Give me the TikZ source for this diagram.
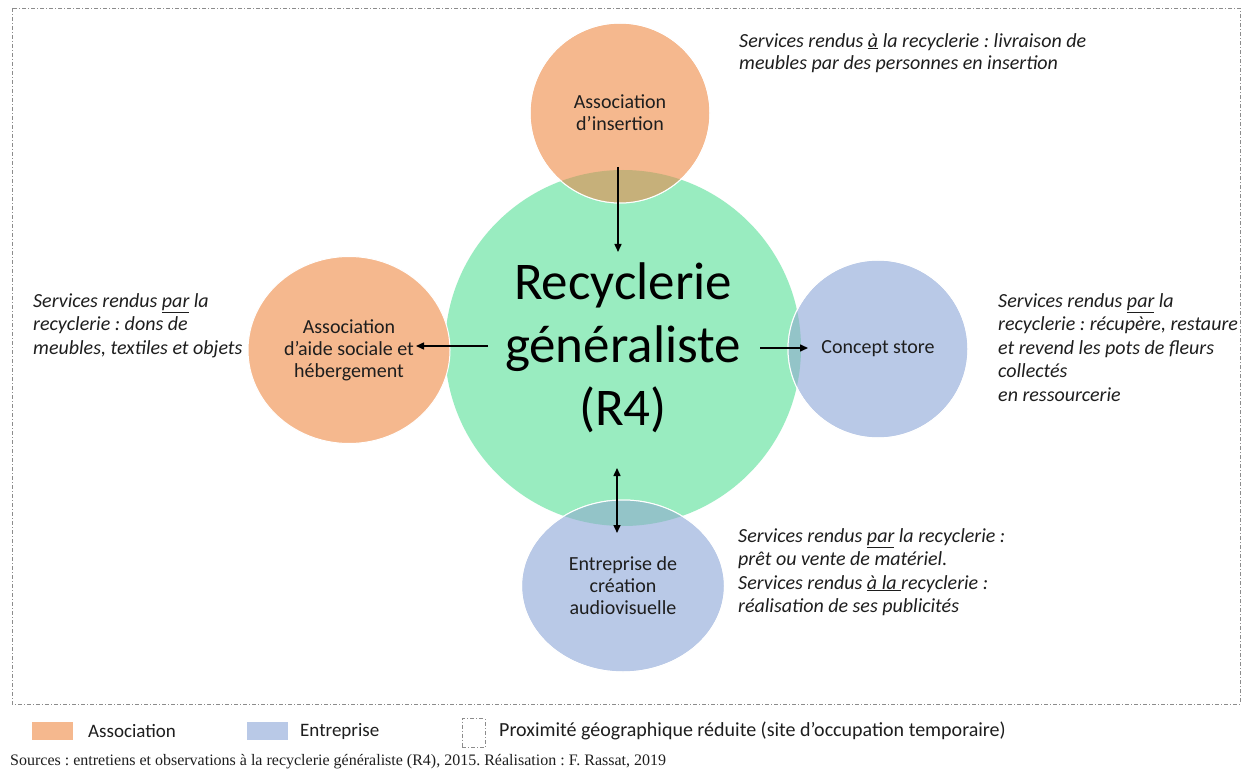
\documentclass[tikz,border=0pt]{standalone}
\usepackage{fontspec}
\setmainfont{Carlito}
\newfontfamily\srcfont{Liberation Serif}
\usetikzlibrary{shapes.geometric,arrows.meta}
\frenchspacing
\definecolor{orangeA}{HTML}{F5B88E}
\definecolor{greenR}{HTML}{99ECC0}
\definecolor{blueE}{HTML}{B9C9E7}
\definecolor{olapOG}{HTML}{C6B07A}
\definecolor{olapBG}{HTML}{93C4C8}
\definecolor{frameGray}{HTML}{8C8C8C}
\definecolor{txt}{HTML}{1E1E1E}
\tikzset{
  bub/.style={ellipse, draw=white, line width=1pt, inner sep=0pt, align=center,
    font=\fontsize{20}{22}\selectfont, text=txt},
  note/.style={anchor=north west, align=left, inner sep=0pt,
    font=\fontsize{20}{23.5}\selectfont\itshape, text=txt},
  arr/.style={-{Triangle[length=8pt,width=7pt]}, line width=1.5pt},
  arrtwo/.style={{Triangle[length=8pt,width=7pt]}-{Triangle[length=8pt,width=7pt]}, line width=1.5pt},
  dashdot/.style={dash pattern=on 4pt off 2pt on 1pt off 2pt},
  frame/.style={draw=frameGray, line width=0.8pt, dashdot},
  swatch/.style={minimum width=41pt, minimum height=18pt, inner sep=0pt},
  legtxt/.style={anchor=west, inner sep=0pt, font=\fontsize{19}{22}\selectfont, text=txt},
  outline/.style={draw=white, line width=1pt}
}
\begin{document}
\begin{tikzpicture}[x=1pt,y=-1pt]
\useasboundingbox[fill=white] (0,0) rectangle (1246,775);
% frame
\draw[frame] (12,8) rectangle (1240,704);
% central circle
\node[circle, fill=greenR, minimum size=356pt, inner sep=0pt, align=center,
  font=\fontsize{53}{63}\selectfont, text=black] (green) at (623,348)
  {Recyclerie\\généraliste\\(R4)};
% satellites
\node[bub, fill=orangeA, minimum width=180pt, minimum height=180pt] (insertion) at (620,113)
  {Association\\d’insertion};
\node[bub, fill=orangeA, minimum width=202pt, minimum height=187pt] (aide) at (349,350)
  {Association\\d’aide sociale et\\hébergement};
\node[bub, fill=blueE, minimum width=180pt, minimum height=178pt] (concept) at (878,349)
  {Concept store};
\node[bub, fill=blueE, minimum width=203pt, minimum height=172pt] (entreprise) at (623,586)
  {Entreprise de\\création\\audiovisuelle};
% overlaps
\begin{scope}
  \clip (green.center) circle[radius=178];
  \fill[olapOG] (insertion.center) ellipse[x radius=90, y radius=90];
  \fill[olapBG] (concept.center) ellipse[x radius=90, y radius=89];
  \fill[olapBG] (entreprise.center) ellipse[x radius=101.5, y radius=86];
\end{scope}
\draw[outline] (insertion.center) ellipse[x radius=90, y radius=90];
\draw[outline] (concept.center) ellipse[x radius=90, y radius=89];
\draw[outline] (entreprise.center) ellipse[x radius=101.5, y radius=86];
% connector ends
\coordinate (insOut) at (618,167);
\coordinate (greenIn) at (618,252);
\coordinate (greenL) at (488,346);
\coordinate (aideIn) at (416,346);
\coordinate (greenR) at (760,348);
\coordinate (conceptIn) at (808,348);
\coordinate (greenB) at (617,468);
\coordinate (entIn) at (617,533);
\draw[arr] (insOut) -- (greenIn);
\draw[arr] (greenL) -- (aideIn);
\draw[arr] (greenR) -- (conceptIn);
\draw[arrtwo] (greenB) -- (entIn);
% annotations
\node[note, font=\fontsize{20}{22.5}\selectfont\itshape] (noteIns) at (739,33)
  {Services rendus \underline{à} la recyclerie : livraison de\\meubles par des personnes en insertion};
\node[note] (noteAide) at (33,293)
  {Services rendus \underline{par} la\\recyclerie : dons de\\meubles, textiles et objets};
\node[note] (noteConcept) at (998,293)
  {Services rendus \underline{par} la\\recyclerie : récupère, restaure\\et revend les pots de fleurs\\collectés\\en ressourcerie};
\node[note] (noteEnt) at (738,528)
  {Services rendus \underline{par} la recyclerie :\\prêt ou vente de matériel.\\Services rendus \underline{à la\ }recyclerie :\\réalisation de ses publicités};
% legend
\node[swatch, fill=orangeA] (swA) at (52.5,731) {};
\node[legtxt] (ltA) at (88,731) {Association};
\node[swatch, fill=blueE] (swE) at (267.5,731) {};
\node[legtxt] (ltE) at (300,731) {Entreprise};
\node[frame, minimum width=23pt, minimum height=29pt, inner sep=0pt] (swP) at (473.5,733) {};
\node[legtxt, font=\fontsize{20}{22}\selectfont] (ltP) at (499,731) {Proximité géographique réduite (site d’occupation temporaire)};
% source
\node[anchor=west, inner sep=0pt, font=\srcfont\fontsize{16}{18}\selectfont, text=txt] (src) at (10,762)
  {Sources : entretiens et observations à la recyclerie généraliste (R4), 2015. Réalisation : F. Rassat, 2019};
\end{tikzpicture}
\end{document}
